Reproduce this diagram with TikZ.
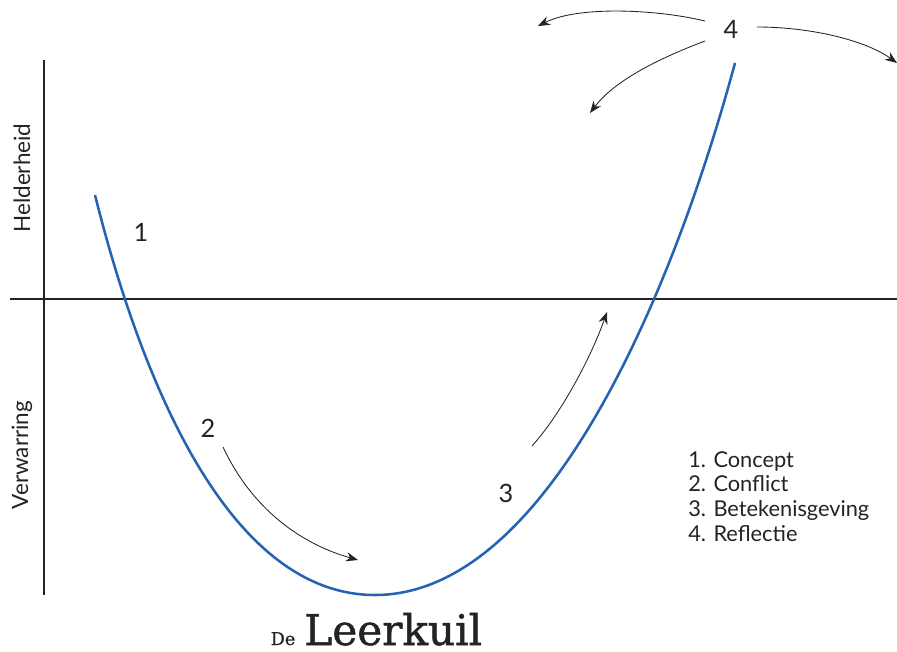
\documentclass[tikz,border=0pt]{standalone}
\usepackage{fontspec}
\setmainfont{Lato}
\newfontfamily\slabfont[FakeBold=1.2]{DejaVu Serif}
\usepackage{tikz}
\usetikzlibrary{arrows.meta, positioning}
\definecolor{CurveBlue}{RGB}{36,98,178}
\definecolor{InkGray}{RGB}{35,35,35}

\begin{document}
\begin{tikzpicture}[
        x=0.025cm, y=-0.025cm,
        % Axes and curve
        axisLine/.style={line width=1.6pt, draw=InkGray},
        curveLine/.style={line width=1.8pt, draw=CurveBlue},
        % Phase arrows
        phaseArrow/.style={-{Stealth[length=3mm, width=2.3mm]}, line width=0.6pt, draw=InkGray},
        % Texts
        phaseNum/.style={font=\fontsize{18}{20}\selectfont, text=InkGray, inner sep=1pt},
        axisLabel/.style={rotate=90, font=\fontsize{16}{18}\selectfont, text=InkGray},
        legendText/.style={align=left, font=\fontsize{15.5}{17.7}\selectfont, text=InkGray, inner sep=0pt},
        titleText/.style={inner sep=0pt, text depth=0pt, text=InkGray}
    ]
    \useasboundingbox (0,0) rectangle (897,652);

    % --- AXES ---
    \coordinate (yTop)   at (44,60);
    \coordinate (yBot)   at (44,595);
    \coordinate (xLeft)  at (10,299);
    \coordinate (xRight) at (897,299);
    \draw[axisLine] (yTop) -- (yBot);
    \draw[axisLine] (xLeft) -- (xRight);

    \node[axisLabel] (helder) at (22,178) {Helderheid};
    \node[axisLabel] (verwar) at (22,455) {Verwarring};

    % --- LEARNING PIT CURVE ---
    \coordinate (pitStart)  at (95,195);
    \coordinate (pitBottom) at (375,595);
    \coordinate (pitEnd)    at (735,63);
    \draw[curveLine] (pitStart) .. controls (142.5,385) and (230,595) .. (pitBottom)
                                .. controls (550,595) and (675.6,283) .. (pitEnd);

    % --- PHASE NUMBERS ---
    \node[phaseNum] (one)   at (141,232) {1};
    \node[phaseNum] (two)   at (208,428) {2};
    \node[phaseNum] (three) at (506,493) {3};
    \node[phaseNum] (four)  at (731,29)  {4};

    % --- PHASE ARROWS ---
    \coordinate (twoStart)   at (223,447);
    \coordinate (twoEnd)     at (358,560);
    \coordinate (threeStart) at (532,446);
    \coordinate (threeEnd)   at (607,312);
    \coordinate (fourA)      at (705,21);
    \coordinate (fourB)      at (705,41);
    \coordinate (fourC)      at (757,27);
    \coordinate (fourAEnd)   at (538,26);
    \coordinate (fourBEnd)   at (590,113);
    \coordinate (fourCEnd)   at (897,63);

    \draw[phaseArrow] (twoStart) .. controls (255,515) and (308,546) .. (twoEnd);
    \draw[phaseArrow] (threeStart) .. controls (560,415) and (590,360) .. (threeEnd);
    \draw[phaseArrow] (fourA) .. controls (660,10) and (580,5) .. (fourAEnd);
    \draw[phaseArrow] (fourB) .. controls (660,58) and (615,80) .. (fourBEnd);
    \draw[phaseArrow] (fourC) .. controls (810,27) and (865,40) .. (fourCEnd);

    % --- LEGEND ---
    \node[legendText, anchor=north west] (legend) at (688,451) {1. Concept\\2. Conflict\\3. Betekenisgeving\\4. Reflectie};

    % --- TITLE ---
    \node[titleText, anchor=base west, font=\slabfont\fontsize{30}{32}\selectfont] (title) at (304,645) {Leerkuil};
    \node[titleText, anchor=base east, font=\slabfont\fontsize{12.5}{14}\selectfont] (de) at ([xshift=-6pt]title.base west) {De};

\end{tikzpicture}
\end{document}
